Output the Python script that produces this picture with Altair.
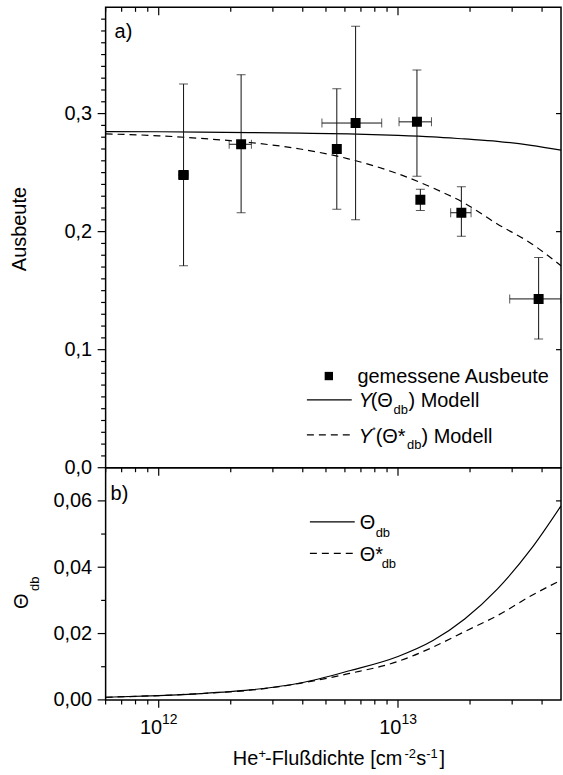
import math
import altair as alt
import pandas as pd

FONT = "Liberation Sans"

# ---------------- data ----------------
flux = [1.27e12, 2.21e12, 5.55e12, 6.65e12, 1.20e13, 1.24e13, 1.84e13, 3.87e13]
yield_meas = [0.248, 0.274, 0.270, 0.292, 0.293, 0.227, 0.216, 0.143]
yield_lo = [0.171, 0.216, 0.219, 0.210, 0.247, 0.218, 0.196, 0.109]
yield_hi = [0.325, 0.333, 0.321, 0.374, 0.337, 0.236, 0.238, 0.178]
flux_lo = [1.21e12, 1.97e12, None, 4.81e12, 1.01e13, None, 1.66e13, 2.93e13]
flux_hi = [1.33e12, 2.44e12, None, 8.55e12, 1.38e13, None, 2.02e13, 4.80e13]

model_flux = [6e11, 1e12, 1.5e12, 2.4e12, 3.9e12, 6.2e12, 1e13, 1.4e13, 1.9e13, 2.6e13, 3.6e13, 4.8e13]
Y_model = [0.2848, 0.2846, 0.2843, 0.2839, 0.2834, 0.2828, 0.2816, 0.2803, 0.2785, 0.2765, 0.2730, 0.2690]
Ystar_model = [0.2828, 0.2812, 0.2790, 0.2755, 0.2700, 0.2617, 0.2490, 0.2370, 0.2240, 0.2065, 0.1900, 0.1711]
theta_db = [0.0008, 0.0013, 0.0019, 0.0030, 0.0051, 0.0087, 0.0131, 0.0179, 0.0244, 0.0334, 0.0455, 0.0585]
theta_db_star = [0.0008, 0.0013, 0.0019, 0.0029, 0.0050, 0.0079, 0.0116, 0.0159, 0.0206, 0.0254, 0.0314, 0.0361]

x_domain = [6e11, 4.8e13]
x_major = [1e12, 1e13]
x_minor = [6e11, 7e11, 8e11, 9e11, 2e12, 3e12, 4e12, 5e12, 6e12, 7e12, 8e12, 9e12, 2e13, 3e13, 4e13]
ya_major = [0.0, 0.1, 0.2, 0.3]
ya_minor = [round(i * 0.01, 2) for i in range(1, 39) if i % 10]
ya_right = [0.1, 0.2, 0.3]
yb_major = [0.0, 0.02, 0.04, 0.06]
yb_minor = [0.01, 0.03, 0.05]
yb_right = [0.02, 0.04, 0.06]

# ---------------- tables ----------------
df_model = pd.DataFrame({"flux": model_flux, "Y": Y_model, "Ys": Ystar_model,
                         "T": theta_db, "Ts": theta_db_star})
df_pts = pd.DataFrame({"flux": flux, "y": yield_meas, "lo": yield_lo, "hi": yield_hi,
                       "flo": flux_lo, "fhi": flux_hi})
df_xerr = df_pts.dropna(subset=["flo"])
df_xlab = pd.DataFrame({"v": x_major, "e": [str(round(math.log10(v))) for v in x_major]})
one = pd.DataFrame({"k": [0]})

W, H1, H2 = 457, 462, 233
xs = alt.Scale(type="log", domain=x_domain, nice=False)
ysa = alt.Scale(domain=[0, 0.39], nice=False)
ysb = alt.Scale(domain=[0, 0.07], nice=False)
MAJ, MIN, RT = 8, 4.5, 5
TICKW = 1.2


def axis(**kw):
    d = dict(domain=False, grid=False, ticks=False, tickSize=0,
             labelFont=FONT, labelFontSize=20, labelColor="black",
             titleFont=FONT, titleFontSize=20, titleColor="black",
             titleFontWeight="normal", title=None)
    d.update(kw)
    return alt.Axis(**d)


def txt(s, x, y, size=20, style="normal", angle=0, align="left"):
    return alt.Chart(one).mark_text(
        text=s, font=FONT, fontSize=size, fontStyle=style, angle=angle,
        align=align, baseline="alphabetic", color="black"
    ).encode(x=alt.value(x), y=alt.value(y))


def hline(x1, x2, y, dash=None):
    kw = dict(color="black", strokeWidth=1.2)
    if dash:
        kw["strokeDash"] = dash
    return alt.Chart(one).mark_rule(**kw).encode(
        x=alt.value(x1), x2=alt.value(x2), y=alt.value(y))


def xticks(values, y1, y2):
    return alt.Chart(pd.DataFrame({"v": values})).mark_rule(color="black", strokeWidth=TICKW).encode(
        x=alt.X("v:Q", scale=xs, axis=None), y=alt.value(y1), y2=alt.value(y2))


def yticks(values, scale, x1, x2):
    return alt.Chart(pd.DataFrame({"v": values})).mark_rule(color="black", strokeWidth=TICKW).encode(
        y=alt.Y("v:Q", scale=scale, axis=None), x=alt.value(x1), x2=alt.value(x2))


DASH = [7, 5]
ERR = "#111111"

# ---------------- panel a ----------------
a_solid = alt.Chart(df_model).mark_line(
    color="black", strokeWidth=1.2, interpolate="monotone", clip=True
).encode(
    x=alt.X("flux:Q", scale=xs, axis=None),
    y=alt.Y("Y:Q", scale=ysa, axis=axis(
        orient="left", values=ya_major, labelPadding=14,
        labelExpr="replace(format(datum.value, '.1f'), '.', ',')",
        title="Ausbeute", titleAngle=270, titleX=-80, titleY=222,
        titleAlign="center", titleBaseline="alphabetic")),
)
a_dash = alt.Chart(df_model).mark_line(
    color="black", strokeWidth=1.2, strokeDash=DASH, interpolate="monotone", clip=True
).encode(
    x=alt.X("flux:Q", scale=xs, axis=None),
    y=alt.Y("Ys:Q", scale=ysa, axis=None),
)
a_verr = alt.Chart(df_pts).mark_rule(color=ERR, strokeWidth=1, clip=True).encode(
    x=alt.X("flux:Q", scale=xs, axis=None),
    y=alt.Y("lo:Q", scale=ysa, axis=None),
    y2="hi:Q",
)
a_herr = alt.Chart(df_xerr).mark_rule(color=ERR, strokeWidth=1, clip=True).encode(
    x=alt.X("flo:Q", scale=xs, axis=None),
    x2="fhi:Q",
    y=alt.Y("y:Q", scale=ysa, axis=None),
)
a_ycaps = alt.Chart(df_pts).transform_fold(["lo", "hi"], as_=["k", "v"]).mark_tick(
    orient="horizontal", size=9, thickness=1, color=ERR, clip=True
).encode(
    x=alt.X("flux:Q", scale=xs, axis=None),
    y=alt.Y("v:Q", scale=ysa, axis=None),
)
a_xcaps = alt.Chart(df_xerr).transform_fold(["flo", "fhi"], as_=["k", "v"]).mark_tick(
    orient="vertical", size=9, thickness=1, color=ERR, clip=True
).encode(
    x=alt.X("v:Q", scale=xs, axis=None),
    y=alt.Y("y:Q", scale=ysa, axis=None),
)
a_pts = alt.Chart(df_pts).mark_square(size=100, color="black", opacity=1, clip=True).encode(
    x=alt.X("flux:Q", scale=xs, axis=None),
    y=alt.Y("y:Q", scale=ysa, axis=None),
)

a_ticks = [
    yticks(ya_major, ysa, -MAJ, 0),
    yticks(ya_minor, ysa, -MIN, 0),
    yticks(ya_right, ysa, W - RT, W),
    xticks(x_major, 0, MAJ),
    xticks(x_minor, 0, MIN),
    xticks(x_major, H1, H1 + MAJ),
    xticks(x_minor, H1, H1 + MIN),
]

a_leg = [
    txt("a)", 9, 31),
    alt.Chart(one).mark_square(size=70, color="black", opacity=1).encode(x=alt.value(224), y=alt.value(370)),
    txt("gemessene Ausbeute", 252.7, 376.7),
    hline(202, 247, 394),
    txt("Y", 254, 401, style="italic"),
    txt("(\u0398", 266, 401),
    txt("db", 289, 408, size=13),
    txt(") Modell", 304, 401),
    hline(202, 247, 429, DASH),
    txt("Y", 254, 436.7, style="italic"),
    txt("*", 267.5, 427, size=9),
    txt("(\u0398*", 271, 436.7),
    txt("db", 302.5, 443, size=13),
    txt(") Modell", 317, 436.7),
]

panel_a = alt.layer(
    a_solid, a_dash, a_verr, a_herr, a_ycaps, a_xcaps, a_pts, *a_ticks, *a_leg
).resolve_axis(x="independent", y="independent").properties(width=W, height=H1)

# ---------------- panel b ----------------
b_solid = alt.Chart(df_model).mark_line(
    color="black", strokeWidth=1.2, interpolate="monotone", clip=True
).encode(
    x=alt.X("flux:Q", scale=xs, axis=None),
    y=alt.Y("T:Q", scale=ysb, axis=axis(
        orient="left", values=yb_major, labelPadding=14,
        labelExpr="replace(format(datum.value, '.2f'), '.', ',')")),
)
b_dash = alt.Chart(df_model).mark_line(
    color="black", strokeWidth=1.2, strokeDash=DASH, interpolate="monotone", clip=True
).encode(
    x=alt.X("flux:Q", scale=xs, axis=None),
    y=alt.Y("Ts:Q", scale=ysb, axis=None),
)
b_ticks = [
    yticks(yb_major, ysb, -MAJ, 0),
    yticks(yb_minor, ysb, -MIN, 0),
    yticks(yb_right, ysb, W - RT, W),
    xticks(x_major, H2, H2 + MAJ),
    xticks(x_minor, H2, H2 + MIN),
]
# x tick labels 10^12, 10^13 (base + superscript exponent)
b_xlab_base = alt.Chart(df_xlab).mark_text(
    text="10", font=FONT, fontSize=20, align="right", dx=3.4, baseline="alphabetic", color="black"
).encode(x=alt.X("v:Q", scale=xs, axis=None), y=alt.value(H2 + 34.3))
b_xlab_exp = alt.Chart(df_xlab).mark_text(
    font=FONT, fontSize=14, align="left", dx=3.4, baseline="alphabetic", color="black"
).encode(x=alt.X("v:Q", scale=xs, axis=None), y=alt.value(H2 + 23.7), text="e:N")

XT_BASE, XT_SUP = H2 + 65.3, H2 + 58
b_leg = [
    txt("b)", 5, 32),
    hline(205, 250, 54.3),
    txt("\u0398", 255, 61.7),
    txt("db", 271, 70, size=13),
    hline(205, 250, 86, DASH),
    txt("\u0398*", 255, 93.3),
    txt("db", 277, 100.7, size=13),
    # y-axis title  Θ_db
    txt("\u0398", -78, 134, angle=270, align="center"),
    txt("db", -67, 116.5, size=13, angle=270, align="center"),
    # x-axis title  He+-Flußdichte [cm-2 s-1]
    txt("He", 127.7, XT_BASE),
    txt("+", 153.3, XT_SUP, size=13),
    txt("-Flu\u00dfdichte [cm", 160, XT_BASE),
    txt("-2", 300, XT_SUP, size=13),
    txt("s", 311.7, XT_BASE),
    txt("-1", 321.7, XT_SUP, size=13),
    txt("]", 335, XT_BASE),
]

panel_b = alt.layer(
    b_solid, b_dash, *b_ticks, b_xlab_base, b_xlab_exp, *b_leg
).resolve_axis(x="independent", y="independent").properties(width=W, height=H2)

chart = alt.vconcat(panel_a, panel_b, spacing=0, bounds="flush").properties(
    padding={"left": 9, "top": 4, "right": 0, "bottom": 4},
    background="white",
).configure_view(stroke="black", strokeWidth=1.5)

chart.save("out.html", embed_options={"renderer": "svg", "actions": False})
